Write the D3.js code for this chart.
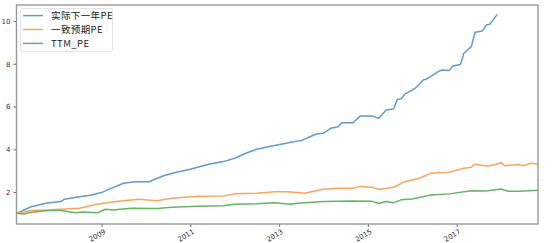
<!DOCTYPE html>
<html><head><meta charset="utf-8">
<script src="https://cdn.jsdelivr.net/npm/d3@7"></script>
<style>
html,body{margin:0;padding:0;background:#fff;}
svg{display:block;}
</style></head>
<body>
<svg id="chart" width="554" height="243"></svg>
<script>
const seriesNames = ["实际下一年PE", "一致预期PE", "TTM_PE"];
const seriesColors = ["#5f9ccb", "#f8a55e", "#63b463"];

const blueDates = ["2007-02","2007-06","2007-10","2008-02","2008-03","2008-07","2008-10","2009-01","2009-03","2009-07","2009-10","2010-02","2010-03","2010-06","2010-09","2011-01","2011-06","2011-10","2012-01","2012-04","2012-07","2012-11","2013-03","2013-06","2013-07","2013-11","2014-01","2014-03","2014-05","2014-06","2014-09","2014-11","2015-02","2015-04","2015-06","2015-08","2015-09","2015-10","2015-11","2016-01","2016-02","2016-04","2016-05","2016-07","2016-08","2016-09","2016-11","2016-12","2017-02","2017-03","2017-05","2017-06","2017-08","2017-09","2017-10","2017-12"];
const blueValues = [1.00,1.31,1.47,1.55,1.66,1.78,1.85,1.97,2.12,2.41,2.48,2.48,2.56,2.77,2.91,3.06,3.30,3.42,3.58,3.81,4.00,4.15,4.28,4.39,4.40,4.71,4.75,4.98,5.05,5.24,5.24,5.56,5.56,5.45,5.84,5.88,6.34,6.35,6.58,6.77,6.88,7.24,7.29,7.51,7.63,7.71,7.69,7.89,7.97,8.49,8.80,9.47,9.53,9.81,9.85,10.31];

const orangeDates = ["2007-02","2007-06","2007-10","2008-02","2008-07","2008-10","2009-01","2009-05","2009-11","2010-04","2010-08","2011-03","2011-10","2012-01","2012-07","2012-12","2013-03","2013-06","2013-08","2013-11","2014-01","2014-05","2014-09","2014-11","2015-02","2015-04","2015-08","2015-11","2016-03","2016-06","2016-08","2016-11","2017-03","2017-05","2017-06","2017-09","2017-11","2018-01","2018-02","2018-04","2018-06","2018-07","2018-09","2018-11"];
const orangeValues = [1.00,1.13,1.16,1.19,1.24,1.35,1.46,1.55,1.66,1.59,1.71,1.80,1.81,1.91,1.94,2.01,2.01,1.97,1.94,2.06,2.13,2.17,2.17,2.26,2.22,2.12,2.22,2.48,2.64,2.87,2.90,2.92,3.11,3.16,3.30,3.22,3.26,3.37,3.23,3.26,3.28,3.22,3.34,3.30];

const greenDates = ["2007-02","2007-04","2007-06","2007-11","2008-02","2008-06","2008-08","2008-12","2009-02","2009-04","2009-09","2010-04","2010-08","2011-03","2011-10","2012-01","2012-07","2012-12","2013-04","2013-06","2014-01","2014-09","2015-02","2015-04","2015-06","2015-08","2015-10","2016-01","2016-06","2016-11","2017-05","2017-09","2018-01","2018-03","2018-06","2018-11"];
const greenValues = [1.00,0.97,1.05,1.13,1.13,1.03,1.06,1.03,1.19,1.16,1.24,1.23,1.28,1.33,1.35,1.42,1.45,1.50,1.43,1.47,1.55,1.58,1.57,1.46,1.55,1.50,1.63,1.67,1.86,1.91,2.06,2.05,2.14,2.03,2.03,2.08];

const yTicks = [2, 4, 6, 8, 10];
const xTickYears = [2009, 2011, 2013, 2015, 2017];

const parse = d3.timeParse("%Y-%m");
const series = [
  {name: seriesNames[0], color: seriesColors[0], pts: blueDates.map((d,i)=>({d:parse(d), v:blueValues[i]}))},
  {name: seriesNames[1], color: seriesColors[1], pts: orangeDates.map((d,i)=>({d:parse(d), v:orangeValues[i]}))},
  {name: seriesNames[2], color: seriesColors[2], pts: greenDates.map((d,i)=>({d:parse(d), v:greenValues[i]}))}
];

const L = 16.5, R = 538, T = 5, B = 224;
const svg = d3.select("#chart");

const x = d3.scaleTime().domain([parse("2007-02"), parse("2018-11")]).range([L, R]);
const y = d3.scaleLinear().domain([0.5, 10.75]).range([B, T]);

// lines
const line = d3.line().x(p=>x(p.d)).y(p=>y(p.v));
svg.append("clipPath").attr("id","clip").append("rect")
  .attr("x", L).attr("y", T).attr("width", R-L).attr("height", B-T);
const g = svg.append("g").attr("clip-path","url(#clip)");
series.forEach(s=>{
  g.append("path").datum(s.pts).attr("d", line)
    .attr("fill","none").attr("stroke", s.color).attr("stroke-width",1.5)
    .attr("stroke-linejoin","round");
});

// y axis
const yAxis = d3.axisLeft(y).tickValues(yTicks).tickSize(3).tickPadding(3).tickFormat(d3.format("d"));
const ya = svg.append("g").attr("transform", `translate(${L},0)`).call(yAxis);
ya.select(".domain").remove();
ya.selectAll("line").attr("stroke","#444").attr("stroke-width",0.8);
ya.selectAll("text").attr("fill","#333").style("font-family","DejaVu Sans, sans-serif").style("font-size","7px");

// x axis
const xAxis = d3.axisBottom(x).tickValues(xTickYears.map(yr=>new Date(yr,0,1)))
  .tickSize(3).tickFormat(d3.timeFormat("%Y"));
const xa = svg.append("g").attr("transform", `translate(0,${B})`).call(xAxis);
xa.select(".domain").remove();
xa.selectAll("line").attr("stroke","#444").attr("stroke-width",0.8);
xa.selectAll("text").attr("fill","#333").style("font-family","DejaVu Sans, sans-serif").style("font-size","7px")
  .attr("text-anchor","end").attr("dy","0").attr("y",5).attr("x",-1)
  .attr("transform","rotate(-30)").attr("dominant-baseline","hanging");

// frame
svg.append("rect").attr("x",L).attr("y",T).attr("width",R-L).attr("height",B-T)
  .attr("fill","none").attr("stroke","#999").attr("stroke-width",1.4);

// legend
const lg = svg.append("g");
lg.append("rect").attr("x",20.5).attr("y",8.5).attr("width",92).attr("height",43).attr("rx",2)
  .attr("fill","#fff").attr("fill-opacity",0.85).attr("stroke","#ddd").attr("stroke-width",0.8);
const rowsY = [15.6, 29.5, 43.4];
series.forEach((s,i)=>{
  lg.append("line").attr("x1",23).attr("x2",43).attr("y1",rowsY[i]).attr("y2",rowsY[i])
    .attr("stroke",s.color).attr("stroke-width",1.5);
  lg.append("text").attr("x",51).attr("y",rowsY[i]).attr("dy","0.36em")
    .attr("fill","#222").style("font-family","'Noto Sans CJK SC', 'DejaVu Sans', sans-serif")
    .style("font-size","9.5px").style("letter-spacing","0.4px").text(s.name);
});
</script>
</body></html>
